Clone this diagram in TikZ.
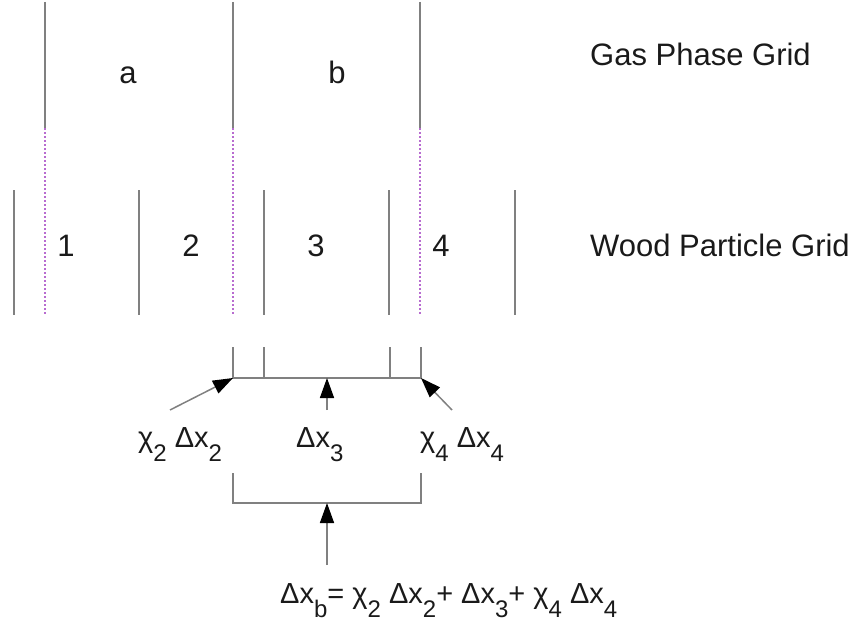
\documentclass[tikz,border=0pt]{standalone}
\usepackage{fontspec}
\setmainfont{Liberation Sans}
\usetikzlibrary{arrows.meta}
\definecolor{gridgray}{HTML}{808080}
\definecolor{dotmag}{HTML}{B86CD0}
\definecolor{txt}{HTML}{1A1A1A}
\newcommand{\sbx}[1]{\raisebox{-14pt}{\fontsize{24}{24}\selectfont #1}}
\begin{document}
\begin{tikzpicture}[x=1pt,y=-1pt,
  gline/.style={draw=gridgray, line width=1.5pt},
  dline/.style={draw=dotmag, line width=2pt, dash pattern=on 2pt off 2pt},
  lbl/.style={text=txt, font=\fontsize{29}{30}\selectfont, inner sep=0pt, anchor=base},
  big/.style={lbl, font=\fontsize{31}{32}\selectfont},
  lblw/.style={lbl, anchor=base west},
  bigw/.style={big, anchor=base west},
  arr/.style={gline, -{Triangle[length=20pt,width=14pt,black]}}]
\path[use as bounding box] (0,0) rectangle (855,626);
% gas phase grid lines
\foreach \n/\x in {g1/45,g2/233,g3/420}{
  \coordinate (\n t) at (\x,2);
  \coordinate (\n m) at (\x,128);
  \coordinate (\n b) at (\x,315);
  \draw[gline] (\n t) -- (\n m);
  \draw[dline] (\n m) -- (\n b);
}
% wood particle grid lines
\foreach \n/\x in {w1/14,w2/139,w3/264,w4/389,w5/515}{
  \coordinate (\n t) at (\x,190);
  \coordinate (\n b) at (\x,315);
  \draw[gline] (\n t) -- (\n b);
}
% labels
\node[big] (la) at (128,84) {a};
\node[big] (lb) at (337,84) {b};
\node[bigw] (gas) at (590,66) {Gas Phase Grid};
\node[big] (l1) at (66,256) {1};
\node[big] (l2) at (191,256) {2};
\node[big] (l3) at (316,256) {3};
\node[big] (l4) at (441,256) {4};
\node[bigw] (wood) at (590,256) {Wood Particle Grid};
% upper bracket
\coordinate (u1t) at (233,347); \coordinate (u1) at (233,378);
\coordinate (u2t) at (264,347); \coordinate (u2) at (264,378);
\coordinate (u3t) at (390,347); \coordinate (u3) at (390,378);
\coordinate (u4t) at (421,347); \coordinate (u4) at (421,378);
\coordinate (um) at (327,378);
\draw[gline] (u1t) -- (u1) -- (u4) -- (u4t);
\draw[gline] (u2t) -- (u2);
\draw[gline] (u3t) -- (u3);
% arrows from labels
\coordinate (a1s) at (170,410);
\coordinate (a2s) at (327,410);
\coordinate (a3s) at (452,410);
\draw[arr] (a1s) -- (u1);
\draw[arr] (a2s) -- (um);
\draw[arr] (a3s) -- (u4);
\node[lblw] (c2) at (138,447) {χ\sbx{2} Δx\sbx{2}};
\node[lblw] (d3) at (296,447) {Δx\sbx{3}};
\node[lblw] (c4) at (420,447) {χ\sbx{4} Δx\sbx{4}};
% lower bracket
\coordinate (b1t) at (233,473); \coordinate (b1) at (233,503);
\coordinate (b2t) at (421,473); \coordinate (b2) at (421,503);
\coordinate (bm) at (327,503);
\draw[gline] (b1t) -- (b1) -- (b2) -- (b2t);
\coordinate (bs) at (327,565);
\draw[arr] (bs) -- (bm);
\node[lblw] (eq) at (280,603) {Δx\sbx{b}= χ\sbx{2} Δx\sbx{2}+ Δx\sbx{3}+ χ\sbx{4} Δx\sbx{4}};
\end{tikzpicture}
\end{document}
